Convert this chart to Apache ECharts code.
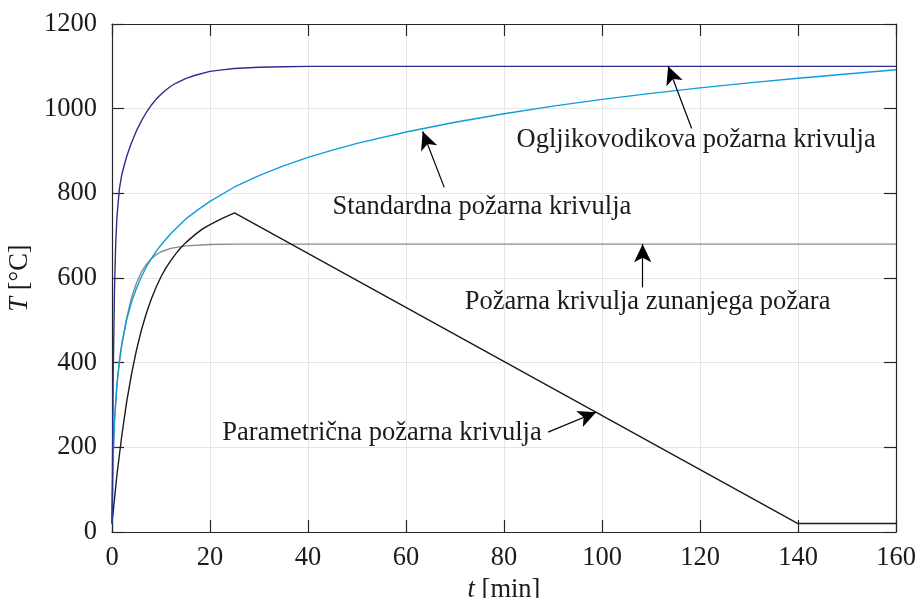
<!DOCTYPE html>
<html>
<head>
<meta charset="utf-8">
<script src="https://cdn.jsdelivr.net/npm/echarts@6/dist/echarts.min.js"></script>
<style>
  html, body { margin: 0; padding: 0; background: #fff; }
  #chart { width: 917px; height: 598px; }
</style>
</head>
<body>
<div id="chart"></div>
<script>
// Fire curves: gas temperature T [°C] against time t [min]

// Hydrocarbon fire curve
const hydroTime = [0, 0.25, 0.5, 0.75, 1, 1.5, 2, 2.5, 3, 3.5, 4, 5, 6, 7, 8, 9, 10, 11, 12, 13, 15, 17, 20, 22, 25, 30, 35, 40, 160];
const hydroTemp = [20, 373, 568, 679, 743, 810, 844, 867, 887, 904, 920, 948, 971, 991, 1008, 1022, 1034, 1044, 1053, 1060, 1071, 1079, 1088, 1091, 1095, 1098, 1099, 1100, 1100];

// Standard fire curve
const stdTime = [0, 0.25, 0.5, 1, 1.5, 2, 3, 4, 5, 6, 7, 8, 9, 10, 12, 15, 17.5, 20, 25, 30, 35, 40, 45, 50, 60, 70, 80, 90, 100, 110, 120, 130, 140, 150, 160];
const stdTemp = [20, 185, 261, 349, 404, 445, 502, 544, 576, 603, 626, 645, 663, 678, 705, 739, 761, 781, 815, 842, 865, 885, 902, 918, 945, 968, 988, 1006, 1022, 1036, 1049, 1061, 1072, 1082, 1092];

// External fire curve
const extTime = [0, 0.25, 0.5, 1, 1.5, 2, 3, 4, 5, 6, 7, 8, 9, 10, 12, 15, 20, 25, 160];
const extTemp = [20, 182, 263, 346, 399, 441, 506, 554, 588, 614, 632, 645, 655, 662, 670, 676, 679, 680, 680];

// Parametric fire curve (heating, then linear cooling)
const parTime = [0, 1, 2, 3, 4, 5, 6, 7, 8, 9, 10, 11, 12, 13, 14, 15, 17, 18.5, 20, 22.5, 25, 140, 160];
const parTemp = [20, 134, 228, 308, 374, 430, 477, 516, 550, 578, 603, 624, 641, 657, 671, 683, 703, 716, 726, 741, 754, 20, 20];

// Axis ticks
const xTicks = [0, 20, 40, 60, 80, 100, 120, 140, 160];
const yTicks = [0, 200, 400, 600, 800, 1000, 1200];

const zip = (xs, ys) => xs.map((x, i) => [x, ys[i]]);

const FONT = '"Liberation Serif", "Times New Roman", serif';
const INK = '#1c1a1b';
const AXIS = '#262626';
const FS = 26.5;

const chart = echarts.init(document.getElementById('chart'), null, { renderer: 'canvas' });

function axisBase(extra) {
  return Object.assign({
    type: 'value',
    axisLine: { show: true, onZero: false, lineStyle: { color: AXIS, width: 1.2 } },
    axisTick: { show: true, inside: true, length: 12, lineStyle: { color: AXIS, width: 1.2 } },
    splitLine: { show: false },
    axisLabel: { show: false }
  }, extra);
}

// Curve annotations: label text with an arrow pointing to the curve
function note(text, at, from, to) {
  return {
    markPoint: {
      silent: true,
      symbol: 'circle',
      symbolSize: 0,
      data: [{ name: text, coord: at }],
      label: {
        show: true, position: 'inside', formatter: '{b}',
        fontFamily: FONT, fontSize: FS, color: INK
      }
    },
    markLine: {
      silent: true,
      symbol: ['none', 'arrow'],
      symbolSize: [13, 18],
      label: { show: false },
      lineStyle: { color: '#000', width: 1.2, type: 'solid' },
      emphasis: { disabled: true },
      data: [[{ coord: from }, { coord: to }]]
    }
  };
}

function curve(name, data, color, extra) {
  return Object.assign({
    name, type: 'line', data,
    showSymbol: false, symbol: 'none', smooth: false,
    lineStyle: { color, width: 1.4 },
    itemStyle: { color },
    emphasis: { disabled: true },
    z: 3
  }, extra || {});
}

chart.setOption({
  animation: false,
  backgroundColor: '#fff',
  grid: { left: 112, right: 21, top: 24, bottom: 66, containLabel: false, outerBoundsMode: 'none' },
  xAxis: [
    axisBase({
      min: xTicks[0], max: xTicks[xTicks.length - 1], interval: 20,
      position: 'bottom',
      splitLine: { show: true, lineStyle: { color: '#e6e6e6', width: 1 } },
      axisLabel: { show: true, margin: 13, fontFamily: FONT, fontSize: FS, color: INK, formatter: v => String(v) },
      name: '{i|t} [min]', nameLocation: 'middle', nameGap: 40,
      nameTextStyle: {
        fontFamily: FONT, fontSize: FS, color: INK,
        rich: { i: { fontFamily: FONT, fontSize: FS, fontStyle: 'italic', color: INK } }
      }
    }),
    axisBase({ min: xTicks[0], max: xTicks[xTicks.length - 1], interval: 20, position: 'top' })
  ],
  yAxis: [
    axisBase({
      min: yTicks[0], max: yTicks[yTicks.length - 1], interval: 200,
      position: 'left',
      splitLine: { show: true, lineStyle: { color: '#e6e6e6', width: 1 } },
      axisLabel: { show: true, margin: 15, fontFamily: FONT, fontSize: FS, color: INK, formatter: v => String(v) },
      name: '{i|T} [°C]', nameLocation: 'middle', nameRotate: 90, nameGap: 66,
      nameTextStyle: {
        fontFamily: FONT, fontSize: FS, color: INK,
        rich: { i: { fontFamily: FONT, fontSize: FS, fontStyle: 'italic', color: INK } }
      }
    }),
    axisBase({ min: yTicks[0], max: yTicks[yTicks.length - 1], interval: 200, position: 'right' })
  ],
  series: [
    curve('Požarna krivulja zunanjega požara', zip(extTime, extTemp), '#8a8a8a',
      note('Požarna krivulja zunanjega požara', [109.3, 543], [108.3, 578], [108.3, 680])),
    curve('Parametrična požarna krivulja', zip(parTime, parTemp), '#1a1a1a',
      note('Parametrična požarna krivulja', [55.1, 234], [89, 236], [98.8, 283])),
    curve('Standardna požarna krivulja', zip(stdTime, stdTemp), '#0f9ddb',
      note('Standardna požarna krivulja', [75.5, 768], [67.8, 814], [63.4, 946])),
    curve('Ogljikovodikova požarna krivulja', zip(hydroTime, hydroTemp), '#2b2e8c',
      note('Ogljikovodikova požarna krivulja', [119.2, 925], [118.3, 953], [113.5, 1100]))
  ]
});
</script>
</body>
</html>
